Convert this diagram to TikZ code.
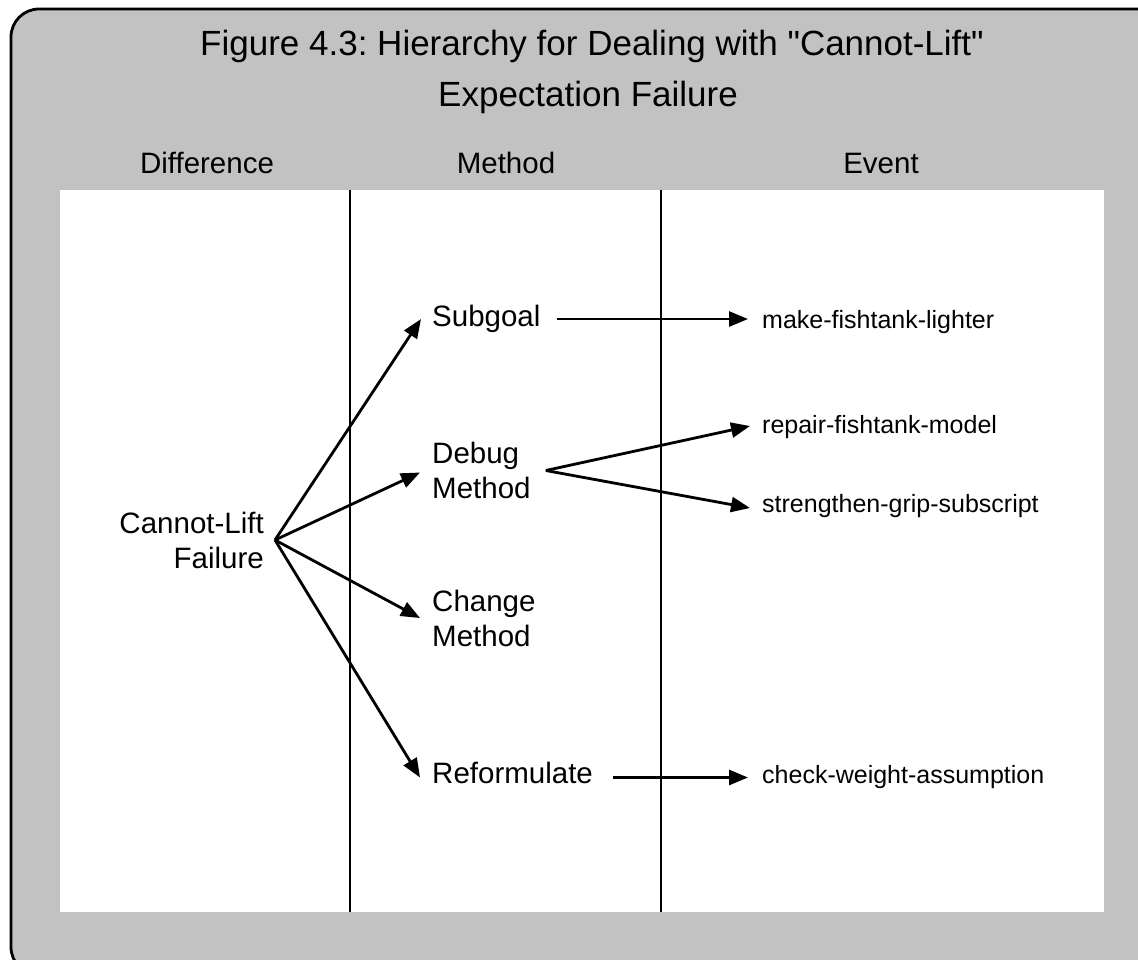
\documentclass[tikz,border=0pt]{standalone}
\usepackage{fontspec}
\setmainfont{Liberation Sans}
\usetikzlibrary{arrows.meta,calc}
\definecolor{panelgray}{gray}{0.76}
\frenchspacing
\tikzset{
  titletext/.style={inner sep=0pt, font=\fontsize{35}{51}\selectfont},
  headtext/.style={inner sep=0pt, anchor=base, font=\fontsize{29.5}{35}\selectfont},
  labtext/.style={inner sep=0pt, font=\fontsize{29.5}{35}\selectfont},
  evtext/.style={inner sep=0pt, anchor=base west, font=\fontsize{25}{30}\selectfont},
  arr/.style={line width=2.8pt, -{Triangle[length=19pt,width=15pt]}},
  divider/.style={line width=1.1pt},
}
\begin{document}
\begin{tikzpicture}[x=1pt,y=-1pt]
\useasboundingbox (0,0) rectangle (1138,959);
\fill[white] (0,0) rectangle (1138,959);
\begin{scope}
\clip (0,0) rectangle (1138,959);
\draw[line width=2.8pt, fill=panelgray, rounded corners=28pt] (11,9) rectangle (1175,975);
\end{scope}
\fill[white] (60,190) rectangle (1104,912);
\draw[divider] (350,190) -- (350,912);
\draw[divider] (661,190) -- (661,912);

% titles and headers
\node[titletext, anchor=base] (t1) at (592,55) {Figure 4.3: Hierarchy for Dealing with \textquotedbl Cannot-Lift\textquotedbl};
\node[titletext, anchor=base] (t2) at (588,106) {Expectation Failure};
\node[headtext] (hdiff) at (207,173) {Difference};
\node[headtext] (hmeth) at (506,173) {Method};
\node[headtext] (hev) at (881,173) {Event};

% nodes
\node[labtext, anchor=east, align=right] (fail) at (264,540) {Cannot-Lift\\Failure};
\node[labtext, anchor=west, align=left] (sub) at (432,319) {Subgoal};
\node[labtext, anchor=west, align=left] (debug) at (432,470.5) {Debug\\Method};
\node[labtext, anchor=west, align=left] (change) at (432,618) {Change\\Method};
\node[labtext, anchor=west, align=left] (ref) at (432,772.5) {Reformulate};

\node[evtext] (make) at (762,328) {make-fishtank-lighter};
\node[evtext] (repair) at (762,433) {repair-fishtank-model};
\node[evtext] (stren) at (762,512) {strengthen-grip-subscript};
\node[evtext] (check) at (762,783) {check-weight-assumption};

% fan arrows
\draw[arr] ($(fail.east)+(11,0)$) -- ($(sub.west)+(-11,0)$);
\draw[arr] ($(fail.east)+(11,0)$) -- ($(debug.west)+(-12,2)$);
\draw[arr] ($(fail.east)+(11,0)$) -- ($(change.west)+(-12,0)$);
\draw[arr] ($(fail.east)+(11,0)$) -- ($(ref.west)+(-12,5)$);

% event arrows
\draw[arr] ($(sub.east)+(16,0)$) -- ($(sub.east -| make.base west)+(-14,0)$);
\draw[arr] ($(debug.east)+(15,0)$) -- ($(repair.base west)+(-12,-7)$);
\draw[arr] ($(debug.east)+(15,0)$) -- ($(stren.base west)+(-12,-4)$);
\draw[arr] ($(ref.east)+(20,5)$) -- ($(ref.east -| check.base west)+(-14,5)$);
\end{tikzpicture}
\end{document}
